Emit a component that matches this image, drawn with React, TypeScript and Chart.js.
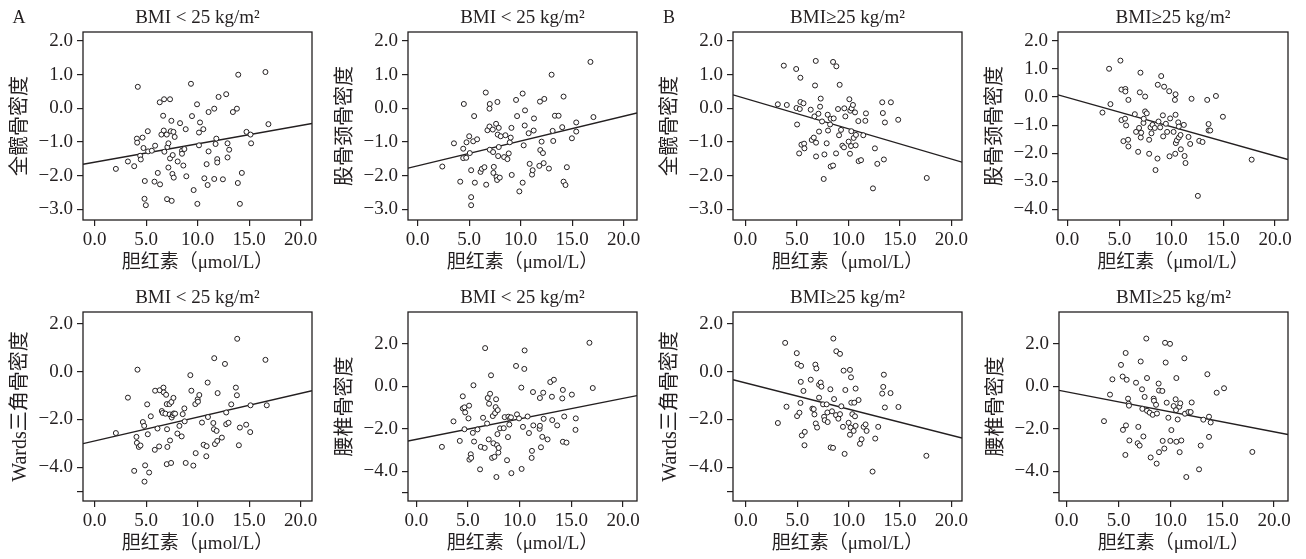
import React, { useEffect, useRef } from 'react';
import { Chart, registerables } from 'chart.js';

Chart.register(...registerables);

const FONT = '"Liberation Serif", "Noto Sans CJK SC", serif';
const INK = '#231f20';

// ---------- shared axis data ----------
const xTicks = [0, 5, 10, 15, 20];
const yTicksTop = [2, 1, 0, -1, -2, -3];
const yTicksTopWide = [2, 1, 0, -1, -2, -3, -4];
const yTicksBottom = [2, 0, -2, -4, -5];
const yBlankTicksBottom = [-5];
const xTitle = '胆红素（μmol/L）';
const titleLow = 'BMI < 25 kg/m²';
const titleHigh = 'BMI≥25 kg/m²';

// ---------- panel 1: 全髋骨密度, BMI<25 ----------
const hipLowX = [4.19,2.06,3.23,3.84,4.1,4.13,4.65,4.42,4.48,4.74,4.87,4.84,4.97,5.16,5.19,5.55,5.87,6.13,5.81,6.35,6.32,6.74,7.32,6.65,6.48,6.71,7.0,6.77,7.06,7.16,7.45,7.39,7.65,7.77,7.32,7.58,7.16,7.55,7.68,7.03,7.48,8.06,8.29,8.48,8.48,8.71,8.61,8.84,8.90,9.35,9.45,9.61,9.94,10.13,10.13,10.23,10.55,9.97,10.65,10.87,10.97,11.06,11.06,11.61,11.61,11.74,11.81,11.9,11.9,12.03,12.45,12.77,12.9,13.06,12.9,13.42,13.81,13.94,13.9,14.29,14.1,14.74,15.13,15.19,16.58,16.87];
const hipLowY = [0.64,-1.80,-1.58,-1.72,-0.90,-1.02,-0.87,-1.41,-1.52,-1.18,-2.16,-2.69,-2.88,-0.68,-1.28,-1.26,-1.11,-1.92,-2.18,-2.26,0.18,0.27,0.27,-0.22,-0.78,-0.66,-0.78,-1.29,-1.15,-1.04,-0.37,-0.68,-0.70,-0.85,-1.49,-1.39,-1.76,-1.95,-2.06,-2.70,-2.75,-1.58,-0.44,-1.26,-1.35,-1.21,-1.70,-0.62,-2.02,0.73,-0.23,-2.43,0.12,-1.10,-0.72,-0.42,-0.62,-2.84,-2.08,-1.66,-2.28,-1.28,-0.11,-0.01,-2.10,-1.06,-0.90,-1.51,-1.61,0.34,-2.11,0.42,-1.04,-1.23,-1.46,-0.11,-0.01,1.0,-2.22,-1.92,-2.84,-0.70,-0.78,-1.04,1.08,-0.47];
const hipLowFit = [-1.60, 0.0544];

// ---------- panel 2: 股骨颈骨密度, BMI<25 ----------
const neckLowX = [2.39,3.52,4.13,4.48,4.42,4.42,4.71,4.74,5.0,5.06,5.19,5.19,5.19,5.39,5.48,5.55,5.77,6.1,6.23,6.48,6.61,6.65,6.77,7.0,6.97,6.97,7.0,7.29,7.32,7.39,7.35,7.65,7.71,7.97,7.61,7.74,7.77,7.87,7.87,7.81,8.06,8.39,8.52,8.71,8.84,8.94,9.03,9.10,9.13,9.55,9.65,9.87,10.19,10.19,10.29,10.39,10.42,10.77,10.87,11.1,11.16,11.26,11.29,11.81,11.87,11.9,12.03,12.16,12.23,12.29,12.74,13.0,13.1,13.16,13.32,13.68,14.03,14.16,14.16,14.35,14.48,14.97,15.39,15.39,16.77,17.06];
const neckLowY = [-1.73,-1.04,-2.18,0.13,-1.20,-1.48,-1.47,-1.01,-0.83,-1.33,-1.84,-2.64,-2.88,-0.98,-0.23,-2.21,-0.92,-1.89,-1.80,-1.75,0.47,-2.27,-0.65,0.13,-0.01,-0.54,-1.23,-0.63,-1.30,-1.74,-1.92,-2.04,-2.13,-2.06,-0.46,0.19,-0.78,-0.58,-1.15,-1.42,-0.83,-1.45,-0.80,-1.51,-1.34,-1.01,-0.87,-0.58,-1.98,0.25,-0.23,-2.47,0.44,-2.21,-1.10,-0.51,-0.06,-0.74,-1.65,-1.97,-1.84,-0.66,-0.30,-1.71,0.20,-1.24,-0.99,-1.33,-1.63,0.28,-1.79,1.0,-0.67,-0.97,-0.22,-0.22,-0.56,0.35,-2.18,-2.28,-1.75,-0.89,-0.69,-0.42,1.38,-0.26];
const neckLowFit = [-1.71, 0.0738];

// ---------- panel 3: 全髋骨密度, BMI>=25 ----------
const hipHighX = [3.16,3.74,4.03,4.94,4.97,5.03,5.23,5.29,5.35,5.35,5.45,5.65,5.71,5.74,6.35,6.45,6.65,6.71,6.77,6.84,6.87,6.87,7.1,7.16,7.26,7.32,7.45,7.68,7.61,7.9,8.0,8.03,8.23,8.29,8.29,8.52,8.52,8.58,8.84,8.81,9.0,9.1,9.16,9.29,9.42,9.58,9.61,9.71,10.03,10.1,10.16,10.19,10.26,10.29,10.32,10.45,10.52,10.65,10.71,10.74,10.97,11.0,11.23,11.45,11.65,11.71,12.39,12.58,12.81,13.29,13.35,13.45,13.55,14.13,14.84,17.61];
const hipHighY = [0.12,1.27,0.10,1.17,0.01,-0.48,-1.34,-0.02,0.91,0.19,-1.08,0.15,-1.05,-1.19,-0.04,-0.94,-0.87,-0.24,0.68,1.41,-1.02,-1.43,-0.16,-0.69,0.05,0.29,-0.39,-1.37,-2.10,-1.04,-0.19,-0.66,-0.48,-0.31,-1.73,1.38,-1.70,-0.30,1.25,-1.34,-0.02,-0.80,0.70,-0.64,-1.11,-1.16,0.0,-0.24,-0.99,0.27,-1.35,-0.07,-1.12,-0.68,0.0,0.10,-0.88,-0.12,-1.10,-0.79,-0.38,-1.57,-1.54,-0.80,-0.37,-0.15,-2.38,-1.19,-1.65,0.18,-0.14,-1.52,-0.42,0.18,-0.34,-2.07];
const hipHighFit = [0.293, -0.090];

// ---------- panel 4: 股骨颈骨密度, BMI>=25 ----------
const neckHighX = [3.38,4.02,4.15,5.11,5.21,5.21,5.4,5.56,5.59,5.59,5.66,5.85,5.88,5.88,6.5,6.62,6.82,6.91,6.98,7.04,7.07,7.11,7.33,7.36,7.49,7.49,7.65,7.88,7.88,8.01,8.10,8.20,8.42,8.49,8.71,8.68,8.78,8.94,9.04,9.20,9.23,9.32,9.49,9.61,9.81,9.84,9.90,10.23,10.36,10.39,10.42,10.42,10.45,10.55,10.68,10.74,10.74,10.90,10.93,11.22,11.29,11.38,11.67,11.83,11.96,12.70,13.02,12.57,13.47,13.60,13.60,13.76,14.31,14.98,17.75];
const neckHighY = [-0.55,1.01,-0.25,1.30,0.27,-0.82,-1.57,-0.77,0.29,0.20,-1.01,-1.52,-0.10,-1.76,-0.61,-1.24,-1.95,-1.10,0.17,0.87,-1.44,-1.27,-0.92,-0.77,0.02,-0.51,-0.58,-1.52,-2.02,-1.08,-1.29,-0.99,-1.10,-2.60,0.44,-2.19,-0.87,-1.08,0.75,-0.65,-1.40,0.37,-0.95,-1.24,0.21,-2.11,-0.76,-1.24,-0.10,-2.02,0.10,-0.63,-1.64,-1.54,-0.90,-1.05,-1.44,-1.35,-1.86,-0.99,-2.10,-2.35,-1.42,-1.67,-0.06,-1.56,-1.60,-3.52,-0.10,-0.96,-1.19,-1.19,0.04,-0.70,-2.23];
const neckHighFit = [-0.014, -0.104];

// ---------- panel 5: Wards三角骨密度, BMI<25 ----------
const wardsLowX = [2.06,3.23,3.84,4.16,4.06,4.10,4.29,4.45,4.68,4.81,4.84,4.90,5.10,5.16,5.29,5.45,5.87,5.84,6.10,6.26,6.32,6.52,6.61,6.68,6.71,6.87,6.94,7.0,7.03,7.06,7.0,7.26,7.29,7.32,7.42,7.45,7.48,7.58,7.65,7.68,7.81,8.03,8.23,8.45,8.55,8.71,8.74,8.84,9.29,9.39,9.58,9.77,9.81,10.0,10.03,10.16,10.42,10.58,10.87,10.84,10.97,11.0,11.52,11.61,11.58,11.68,11.84,11.90,11.94,12.35,12.65,12.77,12.77,13.0,13.26,13.71,13.81,13.84,14.0,14.1,14.71,15.1,15.13,16.58,16.71];
const wardsLowY = [-2.57,-1.09,-4.15,0.08,-2.73,-2.98,-3.15,-3.09,-2.11,-2.27,-4.60,-3.92,-1.37,-2.62,-4.22,-1.87,-0.80,-3.27,-2.38,-3.13,-0.78,-1.65,-1.73,-0.67,-0.87,-1.76,-0.97,-1.36,-2.41,-3.15,-3.87,-1.36,-1.79,-2.88,-3.82,-1.27,-1.92,-1.82,-1.10,-1.75,-1.76,-2.59,-2.27,-2.71,-1.78,-1.54,-2.08,-3.82,-0.15,-0.80,-3.93,-1.36,-3.41,-1.16,-1.26,-0.98,-2.13,-3.06,-3.12,-3.54,-0.46,-1.90,-2.15,0.56,-2.41,-3.03,-2.48,-2.90,-0.90,-2.76,0.32,-1.71,-2.20,-2.14,-1.37,-0.67,-0.99,1.37,-3.08,-2.34,-2.22,-2.53,-1.41,0.49,-1.41];
const wardsLowFit = [-2.90, 0.0994];

// ---------- panel 6: 腰椎骨密度, BMI<25 ----------
const spineLowX = [2.48,3.60,4.21,4.50,4.50,4.66,4.73,4.66,5.05,5.11,5.14,5.27,5.31,5.47,5.53,5.59,5.92,6.17,6.24,6.46,6.62,6.66,6.85,6.91,7.01,7.04,7.14,7.23,7.33,7.40,7.46,7.56,7.62,7.68,7.72,7.75,7.81,7.88,7.85,7.94,7.97,8.10,8.46,8.55,8.78,8.87,8.91,9.0,9.07,9.16,9.20,9.65,9.74,9.94,10.16,10.19,10.32,10.45,10.48,10.77,10.90,11.16,11.19,11.29,11.32,11.93,11.96,11.96,12.06,12.19,12.28,12.32,12.70,12.96,13.12,13.15,13.31,13.63,14.12,14.18,14.18,14.31,14.53,15.05,15.40,15.43,16.75,17.07];
const spineLowY = [-2.85,-1.65,-2.57,-0.47,-1.04,-0.99,-1.23,-2.02,-1.51,-0.91,-3.45,-3.20,-3.37,-2.19,0.05,-2.60,-2.03,-3.91,-2.85,-1.48,-2.90,1.80,-1.75,-0.55,-2.50,-0.82,-0.35,0.52,-3.37,-1.40,-2.68,-3.32,-1.26,-0.98,-0.61,-4.27,-2.77,-1.12,-2.25,-3.12,-2.90,-1.98,-1.97,-1.45,-3.48,-2.39,-1.43,-1.80,-1.51,-1.46,-4.09,0.96,-1.32,-1.51,-0.06,-3.89,-1.91,0.82,1.69,-1.42,-2.20,-3.37,-3.04,-0.27,-1.84,-2.0,-1.86,-0.55,-2.87,-2.38,-0.30,-1.53,-2.50,0.20,-0.49,-1.59,0.31,-1.84,-0.57,-0.17,-2.61,-1.42,-2.65,-0.39,-2.05,-1.51,2.05,-0.08];
const spineLowFit = [-2.50, 0.0966];

// ---------- panel 7: Wards三角骨密度, BMI>=25 ----------
const wardsHighX = [3.11,3.82,3.95,4.95,5.02,4.98,5.21,5.34,5.31,5.37,5.44,5.60,5.73,5.70,6.31,6.47,6.60,6.67,6.76,6.86,6.80,6.93,7.12,7.12,7.28,7.35,7.51,7.61,7.67,7.86,7.96,7.93,8.22,8.25,8.48,8.38,8.51,8.58,8.80,8.77,9.0,9.16,9.16,9.29,9.45,9.51,9.61,9.68,10.0,10.13,10.13,10.23,10.19,10.26,10.36,10.49,10.55,10.62,10.68,10.68,10.97,11.10,11.26,11.46,11.65,11.75,12.33,12.59,12.88,13.27,13.37,13.43,13.53,14.08,14.85,17.57];
const wardsHighY = [-2.15,1.20,-1.47,0.77,0.32,-1.86,-1.72,-0.43,-1.31,0.24,-2.67,-0.81,-2.52,-3.08,-0.34,-1.55,-1.57,-1.79,0.29,0.13,-2.17,-2.34,-1.09,-0.55,-0.46,-0.63,-1.37,-1.89,-2.03,-1.37,-2.11,-1.71,-0.74,-3.17,-3.19,-1.66,1.38,-1.15,0.85,-1.82,-1.97,0.74,-1.78,-1.45,-2.31,0.04,-3.44,-0.77,-2.14,0.07,-2.64,-0.24,-2.34,-1.30,-1.78,-2.48,-1.30,-1.87,-2.27,-0.71,-1.19,-3.02,-2.83,-2.31,-2.21,-2.48,-4.18,-2.80,-2.31,-0.92,-0.64,-0.13,-1.50,-0.90,-1.48,-3.52];
const wardsHighFit = [-0.478, -0.1094];

// ---------- panel 8: 腰椎骨密度, BMI>=25 ----------
const spineHighX = [3.60,4.18,4.41,5.24,5.40,5.43,5.69,5.72,5.79,5.66,5.92,5.98,6.01,6.05,6.69,6.91,6.85,7.04,7.14,7.27,7.30,7.40,7.52,7.68,7.75,7.75,8.01,8.10,8.30,8.39,8.42,8.62,8.68,8.71,8.87,8.91,8.91,9.23,9.26,9.42,9.49,9.55,9.65,9.81,9.97,10.0,10.10,10.32,10.51,10.55,10.58,10.58,10.71,10.87,10.90,10.96,11.06,11.35,11.41,11.54,11.74,11.96,12.06,12.77,12.93,13.18,13.57,13.73,13.73,13.89,14.47,15.18,17.91];
const spineHighY = [-1.64,-0.39,0.33,1.01,0.46,-2.05,1.57,-1.84,0.31,-3.23,-0.58,-0.82,-0.91,-2.55,0.17,-1.91,-2.68,-2.79,1.17,-0.14,-1.06,-2.36,-0.50,2.25,0.39,-1.15,-1.24,-3.35,-1.34,-0.58,-0.68,-0.87,-3.64,-1.28,0.13,-0.20,-3.10,-0.22,-2.57,-2.93,2.05,1.12,-0.77,-1.48,2.0,-2.57,-2.06,-0.93,-0.61,-1.12,0.39,-2.61,-1.56,-0.96,-3.10,-0.80,-2.55,1.32,-1.29,-4.27,-1.21,-1.21,-0.76,-3.91,-2.79,-1.57,0.57,-1.43,-2.38,-1.70,-0.30,-0.09,-3.09];
const spineHighFit = [-0.26, -0.0942];

// ---------- layout ----------
const Y_AXIS_W = 80;
const X_AXIS_H = 60;
const PAD_TOP = 32;
const PAD_RIGHT = 12;

type PanelCfg = {
  xs: number[]; ys: number[]; fit: number[];
  title: string; yTitle: string; corner?: string;
  xRange: number[]; yRange: number[]; yTicks: number[]; yBlank: number[];
  box: { left: number; top: number; width: number; height: number };
};

const panels: PanelCfg[] = [
  { xs: hipLowX, ys: hipLowY, fit: hipLowFit, title: titleLow, yTitle: '全髋骨密度', corner: 'A',
    xRange: [-1.13, 21.1], yRange: [-3.32, 2.27], yTicks: yTicksTop, yBlank: [],
    box: { left: 83, top: 32, width: 229, height: 188 } },
  { xs: neckLowX, ys: neckLowY, fit: neckLowFit, title: titleLow, yTitle: '股骨颈骨密度',
    xRange: [-0.94, 21.29], yRange: [-3.32, 2.27], yTicks: yTicksTop, yBlank: [],
    box: { left: 408, top: 32, width: 229, height: 188 } },
  { xs: hipHighX, ys: hipHighY, fit: hipHighFit, title: titleHigh, yTitle: '全髋骨密度', corner: 'B',
    xRange: [-1.19, 21.03], yRange: [-3.32, 2.27], yTicks: yTicksTop, yBlank: [],
    box: { left: 733, top: 32, width: 229, height: 188 } },
  { xs: neckHighX, ys: neckHighY, fit: neckHighFit, title: titleHigh, yTitle: '股骨颈骨密度',
    xRange: [-0.90, 21.25], yRange: [-4.38, 2.32], yTicks: yTicksTopWide, yBlank: [],
    box: { left: 1058, top: 32, width: 230, height: 188 } },
  { xs: wardsLowX, ys: wardsLowY, fit: wardsLowFit, title: titleLow, yTitle: 'Wards三角骨密度',
    xRange: [-1.13, 21.1], yRange: [-5.41, 2.49], yTicks: yTicksBottom, yBlank: yBlankTicksBottom,
    box: { left: 83, top: 312, width: 229, height: 189 } },
  { xs: spineLowX, ys: spineLowY, fit: spineLowFit, title: titleLow, yTitle: '腰椎骨密度',
    xRange: [-0.80, 21.35], yRange: [-5.40, 3.50], yTicks: yTicksBottom, yBlank: yBlankTicksBottom,
    box: { left: 408, top: 312, width: 229, height: 189 } },
  { xs: wardsHighX, ys: wardsHighY, fit: wardsHighFit, title: titleHigh, yTitle: 'Wards三角骨密度',
    xRange: [-1.26, 21.04], yRange: [-5.41, 2.49], yTicks: yTicksBottom, yBlank: yBlankTicksBottom,
    box: { left: 733, top: 312, width: 229, height: 189 } },
  { xs: spineHighX, ys: spineHighY, fit: spineHighFit, title: titleHigh, yTitle: '腰椎骨密度',
    xRange: [-0.74, 21.35], yRange: [-5.40, 3.50], yTicks: yTicksBottom, yBlank: yBlankTicksBottom,
    box: { left: 1059, top: 312, width: 229, height: 189 } },
];

const fmt = (v: number) => (v < 0 ? '−' : '') + Math.abs(v).toFixed(1);

function Panel({ cfg }: { cfg: PanelCfg }) {
  const ref = useRef<HTMLCanvasElement>(null);
  const W = Y_AXIS_W + cfg.box.width + PAD_RIGHT;
  const H = PAD_TOP + cfg.box.height + X_AXIS_H;

  useEffect(() => {
    if (!ref.current) return;
    const n = Math.min(cfg.xs.length, cfg.ys.length);
    const pts = [] as { x: number; y: number }[];
    for (let i = 0; i < n; i++) pts.push({ x: cfg.xs[i], y: cfg.ys[i] });
    const [a, b] = cfg.fit;
    const fitLine = cfg.xRange.map((x) => ({ x, y: a + b * x }));

    const decor = {
      id: 'decor',
      afterDraw(chart: any) {
        const { ctx, chartArea } = chart;
        const { left, top, right, bottom } = chartArea;
        ctx.save();
        ctx.strokeStyle = INK;
        ctx.lineWidth = 1.3;
        ctx.strokeRect(left, top, right - left, bottom - top);
        ctx.fillStyle = INK;
        ctx.textAlign = 'center';
        ctx.textBaseline = 'middle';
        ctx.font = `19px ${FONT}`;
        ctx.fillText(cfg.title, (left + right) / 2, top - 14);
        if (cfg.corner) {
          ctx.font = `18px ${FONT}`;
          ctx.fillText(cfg.corner, left - 64, top - 14);
        }
        ctx.restore();
      },
    };

    const chart = new Chart(ref.current, {
      type: 'scatter',
      data: {
        datasets: [
          {
            data: pts,
            pointRadius: 2.5,
            pointHoverRadius: 2.5,
            pointBorderWidth: 1,
            pointBorderColor: INK,
            pointBackgroundColor: '#ffffff',
            showLine: false,
          },
          {
            data: fitLine,
            showLine: true,
            pointRadius: 0,
            borderColor: INK,
            borderWidth: 1.4,
            fill: false,
          },
        ],
      },
      options: {
        animation: false,
        responsive: false,
        events: [],
        layout: { padding: { top: PAD_TOP, right: PAD_RIGHT, left: 0, bottom: 0 } },
        plugins: { legend: { display: false }, tooltip: { enabled: false }, title: { display: false } },
        scales: {
          x: {
            type: 'linear',
            min: cfg.xRange[0],
            max: cfg.xRange[1],
            afterBuildTicks: (s: any) => { s.ticks = xTicks.map((v) => ({ value: v })); },
            afterFit: (s: any) => { s.height = X_AXIS_H; },
            ticks: { autoSkip: false, maxRotation: 0, padding: 3, color: INK, font: { family: FONT, size: 19 }, callback: (v: any) => fmt(Number(v)) },
            grid: { drawOnChartArea: false, drawTicks: true, tickLength: 6, color: INK, lineWidth: 1.2 },
            border: { display: false },
            title: { display: true, text: xTitle, color: INK, font: { family: FONT, size: 19 }, padding: { top: 0, bottom: 6 } },
          },
          y: {
            type: 'linear',
            min: cfg.yRange[0],
            max: cfg.yRange[1],
            afterBuildTicks: (s: any) => { s.ticks = cfg.yTicks.map((v) => ({ value: v })); },
            afterFit: (s: any) => { s.width = Y_AXIS_W; },
            ticks: {
              autoSkip: false, padding: 4, color: INK, font: { family: FONT, size: 19 },
              callback: (v: any) => (cfg.yBlank.includes(Number(v)) ? '' : fmt(Number(v))),
            },
            grid: { drawOnChartArea: false, drawTicks: true, tickLength: 6, color: INK, lineWidth: 1.2 },
            border: { display: false },
            title: { display: true, text: cfg.yTitle, color: INK, font: { family: FONT, size: 20 }, padding: { top: 6, bottom: 0 } },
          },
        },
      } as any,
      plugins: [decor],
    });
    return () => chart.destroy();
  }, [cfg]);

  return (
    <canvas
      ref={ref}
      width={W}
      height={H}
      style={{
        position: 'absolute',
        left: cfg.box.left - Y_AXIS_W,
        top: cfg.box.top - PAD_TOP,
        width: W,
        height: H,
      }}
    />
  );
}

export default function App() {
  return (
    <div style={{ position: 'fixed', left: 0, top: 0, width: 1306, height: 559, background: '#ffffff', overflow: 'hidden' }}>
      {panels.map((p, i) => (
        <Panel key={i} cfg={p} />
      ))}
    </div>
  );
}
